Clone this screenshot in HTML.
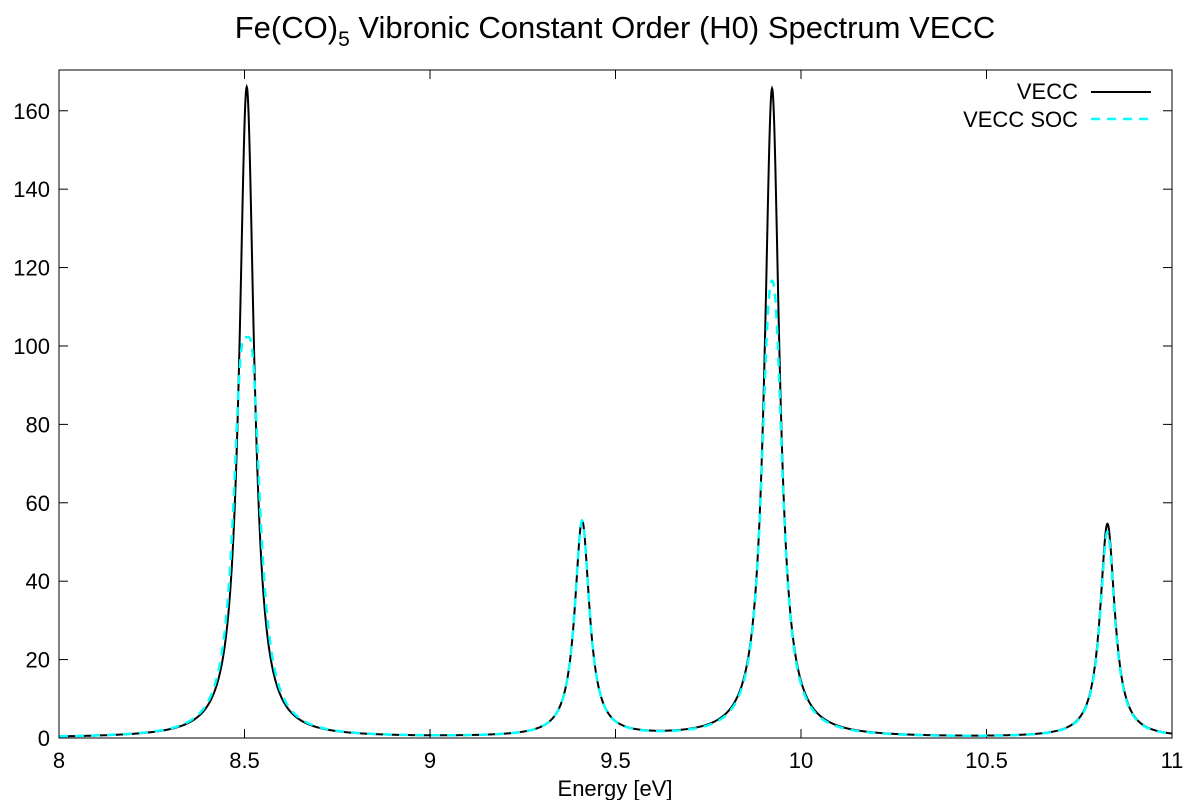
<!DOCTYPE html>
<html><head><meta charset="utf-8"><style>
body{margin:0;background:#fff}
svg{display:block;font-family:"Liberation Sans",sans-serif}
</style></head><body>
<svg id="c" width="1200" height="800" xmlns="http://www.w3.org/2000/svg">
<rect width="1200" height="800" fill="#fff"/>
<text x="615" y="38" font-size="31" text-anchor="middle">Fe(CO)<tspan font-size="21" dy="8">5</tspan><tspan dy="-8"> Vibronic Constant Order (H0) Spectrum VECC</tspan></text>
<g id="axes"></g>
<g id="plot"></g>
<rect x="59" y="70" width="1113" height="668" fill="none" stroke="#000" stroke-width="1"/>
<text x="615" y="796" font-size="22" text-anchor="middle">Energy [eV]</text>
<g>
<text x="1078" y="99" font-size="22" text-anchor="end">VECC</text>
<line x1="1091" y1="92" x2="1151" y2="92" stroke="#000" stroke-width="2"/>
<text x="1078" y="127" font-size="22" text-anchor="end">VECC SOC</text>
<line x1="1091" y1="119" x2="1151" y2="119" stroke="#00ffff" stroke-width="2.5" stroke-dasharray="9,7"/>
</g>
</svg>
<script>
const xTicks=[8,8.5,9,9.5,10,10.5,11];
const yTicks=[0,20,40,60,80,100,120,140,160];
const veccCenters=[8.506,9.41,9.922,10.826];
const veccHeights=[166,55,165.5,54.5];
const veccWidths=[0.024,0.024,0.024,0.024];
const socCenters=[8.49,8.522,9.41,9.911,9.933,10.826];
const socHeights=[69,69,55,69.5,69.5,52.5];
const socWidths=[0.027,0.027,0.024,0.025,0.025,0.024];
const baseline=0;
const X0=59,X1=1172,Y0=738,Y1=70,xmin=8,xmax=11,ymin=0,ymax=170.4;
const sx=v=>X0+(v-xmin)/(xmax-xmin)*(X1-X0);
const sy=v=>Y0-(v-ymin)/(ymax-ymin)*(Y0-Y1);
const NS='http://www.w3.org/2000/svg';
const ax=document.getElementById('axes'),pl=document.getElementById('plot');
function mk(t,a,p){const e=document.createElementNS(NS,t);for(const k in a)e.setAttribute(k,a[k]);p.appendChild(e);return e;}
const z=mk('line',{x1:X0,x2:X1,y1:sy(0),y2:sy(0),stroke:'#888','stroke-dasharray':'1,4','stroke-width':1},ax);


xTicks.forEach(t=>{const x=sx(t);
 mk('line',{x1:x,x2:x,y1:Y0,y2:Y0-9,stroke:'#000'},ax);
 mk('line',{x1:x,x2:x,y1:Y1,y2:Y1+9,stroke:'#000'},ax);
 const l=mk('text',{x:x,y:Y0+30,'font-size':22,'text-anchor':'middle'},ax);l.textContent=t;
 
 });
yTicks.forEach(t=>{const y=sy(t);
 mk('line',{x1:X0,x2:X0+9,y1:y,y2:y,stroke:'#000'},ax);
 mk('line',{x1:X1,x2:X1-9,y1:y,y2:y,stroke:'#000'},ax);
 const l=mk('text',{x:X0-9,y:y+8,'font-size':22,'text-anchor':'end'},ax);l.textContent=t;
 
 });
function spec(c,h,w,e){let s=baseline;for(let i=0;i<c.length;i++){const d=(e-c[i])/w[i];s+=h[i]/(1+d*d);}return s;}
function path(c,h,w){let d='';for(let i=0;i<=3000;i++){const e=xmin+(xmax-xmin)*i/3000;d+=(i?'L':'M')+sx(e).toFixed(2)+','+sy(spec(c,h,w,e)).toFixed(2);}return d;}
const p1=mk('path',{d:path(veccCenters,veccHeights,veccWidths),fill:'none',stroke:'#000','stroke-width':2},pl);


const p2=mk('path',{d:path(socCenters,socHeights,socWidths),fill:'none',stroke:'#00ffff','stroke-width':2.5,'stroke-dasharray':'9,7'},pl);


</script>
</body></html>
